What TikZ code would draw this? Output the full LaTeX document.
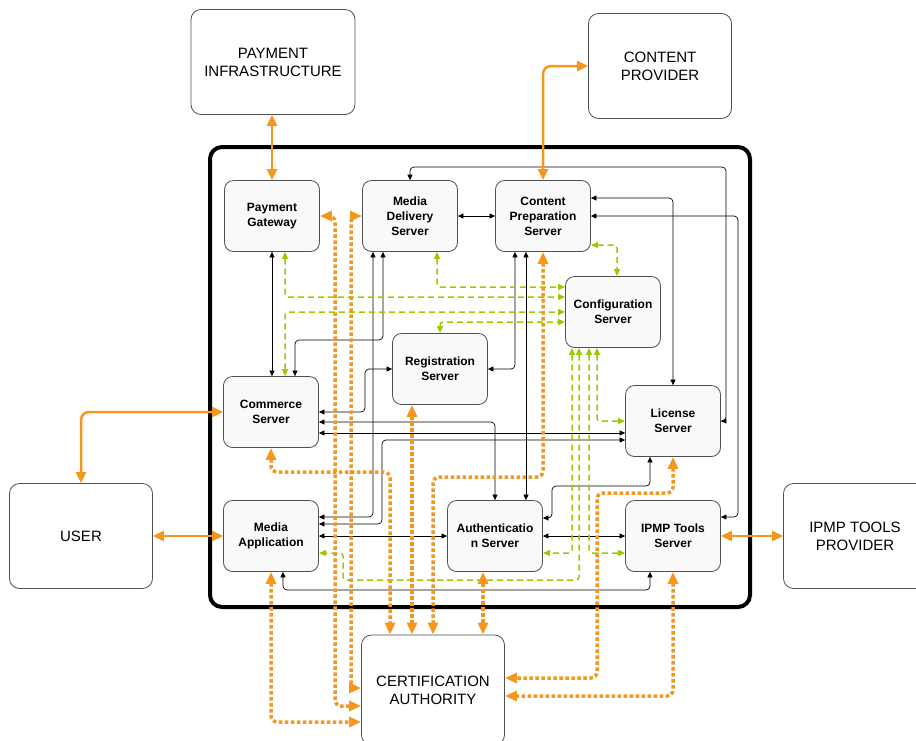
\documentclass[tikz,border=0pt]{standalone}
\usepackage{fontspec}
\setmainfont{Liberation Sans}
\usetikzlibrary{arrows.meta}
\definecolor{feedorange}{RGB}{246,150,30}
\definecolor{cfggreen}{RGB}{153,204,0}
\definecolor{boxgray}{RGB}{80,80,80}

\begin{document}
\begin{tikzpicture}[x=1pt,y=-1pt]
  \tikzstyle{srv}=[rectangle, rounded corners=9pt, draw=boxgray, line width=0.8pt, fill=gray!5, minimum width=95pt, minimum height=71pt, inner sep=0pt, align=center, font=\fontsize{12}{15}\selectfont\bfseries]
  \tikzstyle{ext}=[rectangle, rounded corners=10pt, draw=boxgray, line width=0.8pt, fill=white, minimum width=143pt, minimum height=105pt, inner sep=0pt, align=center, font=\fontsize{15}{18}\selectfont]
  \tikzstyle{link}=[{Triangle[length=5.5pt,width=5pt]}-{Triangle[length=5.5pt,width=5pt]}, line width=0.7pt, rounded corners=4pt]
  \tikzstyle{cfg}=[{Triangle[length=7pt,width=6pt]}-{Triangle[length=7pt,width=6pt]}, draw=cfggreen, line width=1.5pt, dash pattern=on 6pt off 4pt, rounded corners=3pt]
  \tikzstyle{feed}=[{Triangle[length=11pt,width=10pt]}-{Triangle[length=11pt,width=10pt]}, draw=feedorange, line width=2.5pt, rounded corners=8pt]
  \tikzstyle{cert}=[{Triangle[length=12pt,width=10pt]}-{Triangle[length=12pt,width=10pt]}, draw=feedorange, line width=3.5pt, dash pattern=on 3.5pt off 2.5pt, rounded corners=6pt]

  \useasboundingbox (0,0) rectangle (916,740);

  % the system
  \draw[line width=4pt, rounded corners=12pt] (210,147) rectangle (750,607);

  \node[ext] (payinf)   at (273,62)  [minimum width=164pt] {PAYMENT\\INFRASTRUCTURE};
  \node[ext] (contprov) at (660,66)  {CONTENT\\PROVIDER};
  \node[ext] (user)     at (81,536)  {USER};
  \node[ext] (ipmpprov) at (855,536) {IPMP TOOLS\\PROVIDER};
  \node[ext] (ca)       at (433,690) [minimum height=110pt] {CERTIFICATION\\AUTHORITY};

  \node[srv] (pg)     at (272,216) {Payment\\Gateway};
  \node[srv] (mds)    at (410,216) {Media\\Delivery\\Server};
  \node[srv] (cps)    at (543,216) {Content\\Preparation\\Server};
  \node[srv] (config) at (613,312) {Configuration\\Server};
  \node[srv] (reg)    at (440,369) {Registration\\Server};
  \node[srv] (com)    at (271,412) {Commerce\\Server};
  \node[srv] (lic)    at (673,421) {License\\Server};
  \node[srv] (mapp)   at (271,536) {Media\\Application};
  \node[srv] (auth)   at (495,536) {Authenticatio\\n Server};
  \node[srv] (ipmp)   at (673,536) {IPMP Tools\\Server};

  % black links
  \draw[link] (pg.south) -- (pg.south |- com.north);
  \draw[link] (mds.south -| 383,0) |- (295,340) -- (com.north -| 295,0);
  \draw[link] (mds.south -| 373,0) |- (mapp.east |- 0,517);
  \draw[link] (lic.west |- 0,440) -| (382,524) -- (mapp.east |- 0,524);
  \draw[link] (reg.west) -| (365,412) -- (com.east |- 0,412);
  \draw[link] (com.east |- 0,422) -| (auth.north);
  \draw[link] (com.east |- 0,433) -- (lic.west |- 0,433);
  \draw[link] (mds.east) -- (cps.west);
  \draw[link] (mds.north) |- (726,167) |- (lic.east);
  \draw[link] (cps.east |- 0,198) -| (lic.north);
  \draw[link] (cps.east) -| (738,517) -- (ipmp.east |- 0,517);
  \draw[link] (cps.south -| 515,0) |- (reg.east);
  \draw[link] (cps.south -| 526,0) -- (auth.north -| 526,0);
  \draw[link] (mapp.east) -- (auth.west);
  \draw[link] (auth.east) -- (ipmp.west);
  \draw[link] (auth.east |- 0,518) -| (552,486) -| (lic.south -| 650,0);
  \draw[link] (mapp.south -| 283,0) |- (650,590) -- (ipmp.south -| 650,0);

  % configuration links
  \draw[cfg] (mds.south -| 437,0) |- (config.west |- 0,287);
  \draw[cfg] (pg.south -| 285,0) |- (config.west |- 0,297);
  \draw[cfg] (com.north -| 285,0) |- (config.west |- 0,312);
  \draw[cfg] (reg.north) |- (config.west |- 0,322);
  \draw[cfg] (cps.east |- 0,245) -| (config.north -| 617,0);
  \draw[cfg] (config.south -| 597,0) |- (lic.west);
  \draw[cfg] (config.south -| 589,0) |- (ipmp.west |- 0,553);
  \draw[cfg] (config.south -| 572,0) |- (auth.east |- 0,553);
  \draw[cfg] (config.south -| 579,0) |- (343,580) |- (mapp.east |- 0,553);

  % outside parties
  \draw[feed] (pg.north |- payinf.south) -- (pg.north);
  \draw[feed] (contprov.west) -| (cps.north);
  \draw[feed] (user.north) |- (com.west);
  \draw[feed] (user.east) -- (mapp.west);
  \draw[feed] (ipmp.east) -- (ipmpprov.west);

  % certificates
  \draw[cert] (pg.east) -| (335,706) -- (ca.west |- 0,706);
  \draw[cert] (mds.west) -| (351,688) -- (ca.west |- 0,688);
  \draw[cert] (mapp.south) |- (ca.west |- 0,722);
  \draw[cert] (com.south) |- (390,472) -- (ca.north -| 390,0);
  \draw[cert] (reg.south -| 412,0) -- (ca.north -| 412,0);
  \draw[cert] (cps.south) |- (433,477) -- (ca.north);
  \draw[cert] (auth.south -| 483,0) -- (ca.north -| 483,0);
  \draw[cert] (lic.south) |- (597,493) |- (ca.east |- 0,678);
  \draw[cert] (ipmp.south) |- (ca.east |- 0,696);
\end{tikzpicture}
\end{document}
